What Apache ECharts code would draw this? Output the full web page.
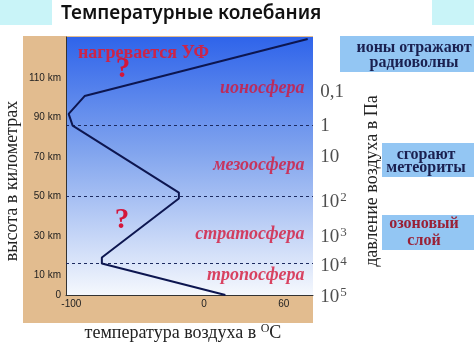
<!DOCTYPE html>
<html>
<head>
<meta charset="utf-8">
<script src="https://cdn.jsdelivr.net/npm/echarts@6/dist/echarts.min.js"></script>
<style>
  html, body { margin: 0; padding: 0; background: #fff; }
  #chart { width: 474px; height: 343px; }
</style>
</head>
<body>
<div id="chart"></div>
<script>
// temperature profile (°C vs km)
const tempC = [16, -77, -77, -19, -19, -99, -102, -90, 78];
const altKm = [0, 16, 19, 49, 52, 86, 92, 101, 130];

// layer boundaries (dashed)
const boundaryKm = [16, 50, 86];

// axis ticks
const xTicks = [-100, 0, 60];
const yTicks = [0, 10, 30, 50, 70, 90, 110];
const yTickLabels = ['0', '10 km', '30 km', '50 km', '70 km', '90 km', '110 km'];

// layer names
const layerNames = ['ионосфера', 'мезоосфера', 'стратосфера', 'тропосфера'];
const layerAlt = [105, 66, 31, 10];

// pressure scale (Pa)
const pressureBase = ['0,1', '1', '10', '10', '10', '10', '10'];
const pressureExp = ['', '', '', '2', '3', '4', '5'];
const pressureAlt = [103, 86, 70, 47, 29.5, 14.5, -1];

const chart = echarts.init(document.getElementById('chart'));

const serif = '"Liberation Serif", "DejaVu Serif", serif';

const option = {
  animation: false,
  backgroundColor: '#fff',
  grid: {
    left: 66, top: 37, width: 247, height: 258,
    show: true,
    borderWidth: 0,
    backgroundColor: new echarts.graphic.LinearGradient(0, 0, 0, 1, [
      { offset: 0, color: '#2f64ea' },
      { offset: 0.45, color: '#82a5ee' },
      { offset: 1, color: '#f5f8fd' }
    ])
  },
  xAxis: {
    type: 'value',
    min: -104, max: 82, interval: 4,
    axisLine: { show: true, onZero: false, lineStyle: { color: '#333', width: 1 } },
    axisTick: { show: false },
    splitLine: { show: false },
    axisLabel: {
      color: '#222', fontSize: 10, fontFamily: 'Liberation Sans, Arial', margin: 4,
      showMinLabel: true, showMaxLabel: false,
      formatter: v => xTicks.includes(v) ? String(v) : ''
    }
  },
  yAxis: {
    type: 'value',
    min: 0, max: 131, interval: 10,
    axisLine: { show: true, onZero: false, lineStyle: { color: '#333', width: 1 } },
    axisTick: { show: false },
    splitLine: { show: false },
    axisLabel: {
      color: '#222', fontSize: 10, fontFamily: 'Liberation Sans, Arial', margin: 5,
      showMaxLabel: false,
      formatter: v => {
        const i = yTicks.indexOf(v);
        return i >= 0 ? yTickLabels[i] : '';
      }
    }
  },
  series: [
    {
      type: 'line',
      data: tempC.map((t, i) => [t, altKm[i]]),
      symbol: 'none',
      lineStyle: { color: '#0d1650', width: 2 },
      z: 5,
      markLine: {
        silent: true,
        symbol: 'none',
        label: { show: false },
        lineStyle: { color: '#1c2a60', type: [3, 3], width: 1 },
        data: boundaryKm.map(v => ({ yAxis: v }))
      }
    },
    {
      type: 'scatter',
      data: layerNames.map((n, i) => ({ name: n, value: [76, layerAlt[i]] })),
      symbolSize: 1,
      itemStyle: { color: 'transparent' },
      label: {
        show: true, position: 'left', distance: 0,
        formatter: p => p.name,
        color: '#d4163a', fontSize: 18, fontStyle: 'italic', fontWeight: 'bold',
        fontFamily: serif
      },
      z: 6
    },
    {
      type: 'scatter',
      clip: false,
      data: pressureBase.map((b, i) => ({ name: b, value: [87, pressureAlt[i]], exp: pressureExp[i] })),
      symbolSize: 1,
      itemStyle: { color: 'transparent' },
      label: {
        show: true, position: 'right', distance: 0,
        formatter: p => '{b|' + p.name + '}' + (p.data.exp ? '{s|' + p.data.exp + '}' : ''),
        rich: {
          b: { fontSize: 19, fontFamily: serif, color: '#222', lineHeight: 22 },
          s: { fontSize: 13, fontFamily: serif, color: '#222', verticalAlign: 'top', lineHeight: 22, padding: [0, 0, 0, 1] }
        }
      }
    }
  ],
  graphic: [
    { type: 'rect', shape: { x: 0, y: 0, width: 474, height: 25 }, style: { fill: '#c9f4f8' }, z: -20 },
    { type: 'rect', shape: { x: 52, y: 0, width: 380, height: 25 }, style: { fill: '#ffffff' }, z: -19 },
    {
      type: 'text', x: 61, y: 14, z: 10,
      style: { text: 'Температурные колебания', fill: '#111', font: '600 19px "Noto Sans", sans-serif', verticalAlign: 'middle' }
    },
    { type: 'rect', shape: { x: 23, y: 36, width: 290, height: 287 }, style: { fill: '#e2bc8f' }, z: -10 },
    {
      type: 'text', x: 78, y: 53, z: 10,
      style: { text: 'нагревается УФ', fill: '#cc2448', font: 'bold 18px ' + serif, verticalAlign: 'middle' }
    },
    {
      type: 'text', x: 123, y: 70, z: 10,
      style: { text: '?', fill: '#d4163a', font: 'bold 29px ' + serif, align: 'center', verticalAlign: 'middle' }
    },
    {
      type: 'text', x: 122, y: 221, z: 10,
      style: { text: '?', fill: '#d4163a', font: 'bold 29px ' + serif, align: 'center', verticalAlign: 'middle' }
    },
    {
      type: 'text', x: 12, y: 181, rotation: Math.PI / 2, z: 10,
      style: { text: 'высота в километрах', fill: '#222', font: '18px ' + serif, align: 'center', verticalAlign: 'middle' }
    },
    {
      type: 'text', x: 372, y: 181, rotation: Math.PI / 2, z: 10,
      style: { text: 'давление воздуха в Па', fill: '#222', font: '18px ' + serif, align: 'center', verticalAlign: 'middle' }
    },
    {
      type: 'text', x: 183, y: 333, z: 10,
      style: {
        text: '{a|температура воздуха в }{s|O}{a|C}', align: 'center', verticalAlign: 'middle',
        rich: {
          a: { fontSize: 18, fontFamily: serif, fill: '#222', lineHeight: 20 },
          s: { fontSize: 12, fontFamily: serif, fill: '#222', verticalAlign: 'top', lineHeight: 20 }
        }
      }
    },
    { type: 'rect', shape: { x: 340, y: 36, width: 134, height: 36 }, style: { fill: '#93c6f3' }, z: -5 },
    {
      type: 'text', x: 414, y: 55, z: 10,
      style: { text: 'ионы отражают\nрадиоволны', fill: '#1a2050', font: 'bold 16px ' + serif, align: 'center', verticalAlign: 'middle', lineHeight: 15 }
    },
    { type: 'rect', shape: { x: 382, y: 143, width: 92, height: 34 }, style: { fill: '#93c6f3' }, z: -5 },
    {
      type: 'text', x: 426, y: 161, z: 10,
      style: { text: 'сгорают\nметеориты', fill: '#1a2050', font: 'bold 16px ' + serif, align: 'center', verticalAlign: 'middle', lineHeight: 13 }
    },
    { type: 'rect', shape: { x: 382, y: 215, width: 92, height: 35 }, style: { fill: '#93c6f3' }, z: -5 },
    {
      type: 'text', x: 424, y: 232, z: 10,
      style: { text: 'озоновый\nслой', fill: '#9a2035', font: 'bold 16px ' + serif, align: 'center', verticalAlign: 'middle', lineHeight: 17 }
    }
  ]
};

chart.setOption(option);
</script>
</body>
</html>
